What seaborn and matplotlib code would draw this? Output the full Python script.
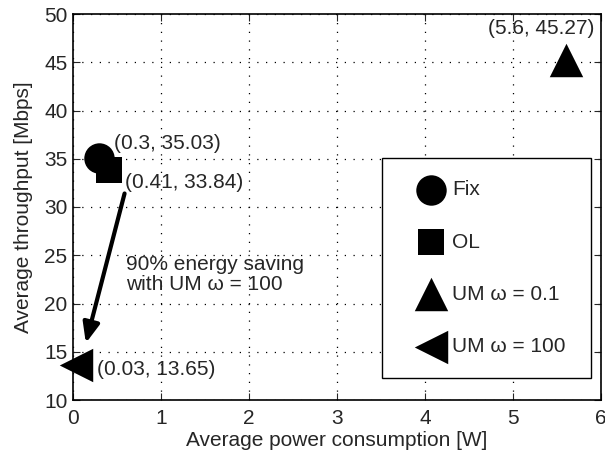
import numpy as np
import pandas as pd
import seaborn as sns
from matplotlib import pyplot as plt

# values
methods = ['Fix', 'OL', 'UM \u03c9 = 0.1', 'UM \u03c9 = 100']
power = [0.3, 0.41, 5.6, 0.03]
throughput = [35.03, 33.84, 45.27, 13.65]
point_labels = ['(0.3, 35.03)', '(0.41, 33.84)', '(5.6, 45.27)', '(0.03, 13.65)']
x_ticks = [0, 1, 2, 3, 4, 5, 6]
y_ticks = [10, 15, 20, 25, 30, 35, 40, 45, 50]

markers = ['o', 's', '^', '<']
sizes = [480, 330, 580, 580]
label_pos = [(0.47, 36.6), (0.59, 32.5), (4.72, 48.5), (0.27, 13.2)]


def plot():
    sns.set_style('ticks')
    plt.rcParams['font.family'] = ['Liberation Sans', 'DejaVu Sans']

    data = pd.DataFrame({'method': methods, 'power': power, 'throughput': throughput})

    fig = plt.figure(figsize=(6.05, 4.57), dpi=100)
    ax = fig.add_axes([73 / 605, 1 - 400 / 457, 528 / 605, 386 / 457])

    for i, row in data.iterrows():
        sns.scatterplot(x=[row['power']], y=[row['throughput']], marker=markers[i], s=sizes[i],
                        color='black', edgecolor='black', linewidth=0, label=row['method'], ax=ax,
                        zorder=3, clip_on=False)

    for lbl, (tx, ty) in zip(point_labels, label_pos):
        ax.text(tx, ty, lbl, fontsize=15, va='center', ha='left', zorder=4)

    ax.annotate('', xy=(0.146, 15.9), xytext=(0.586, 31.4),
                arrowprops=dict(arrowstyle='-|>,head_length=1.2,head_width=0.5', color='black',
                                lw=3, shrinkA=0, shrinkB=0))
    ax.text(0.6, 23.0, '90% energy saving\nwith UM \u03c9 = 100', fontsize=15, va='center', ha='left',
            linespacing=1.1)

    ax.set_xlim(0, 6)
    ax.set_ylim(10, 50)
    ax.set_xticks(x_ticks)
    ax.set_yticks(y_ticks)
    ax.tick_params(direction='in', top=True, right=True, labelsize=15, length=5, width=0.8)
    ax.tick_params(axis='x', pad=6.5)
    ax.tick_params(axis='y', pad=4)
    ax.grid(True, color='black', linestyle=(0, (1, 6)), linewidth=0.9)
    for sp in ax.spines.values():
        sp.set_linewidth(1.2)
        sp.set_color('black')

    ax.set_xlabel('Average power consumption [W]', fontsize=15, labelpad=2)
    ax.set_ylabel('Average throughput [Mbps]', fontsize=15, labelpad=8)

    leg = ax.legend(loc='upper left', bbox_to_anchor=(0.586, 0.036, 0.396, 0.59), mode='expand',
                    fontsize=15, frameon=True, fancybox=False, edgecolor='black', framealpha=1,
                    borderpad=1.05, labelspacing=1.6, handlelength=2.6, handletextpad=-0.3,
                    borderaxespad=0)
    leg.get_frame().set_linewidth(1.0)

    fig.savefig('out.png', dpi=100)


if __name__ == '__main__':
    plot()
